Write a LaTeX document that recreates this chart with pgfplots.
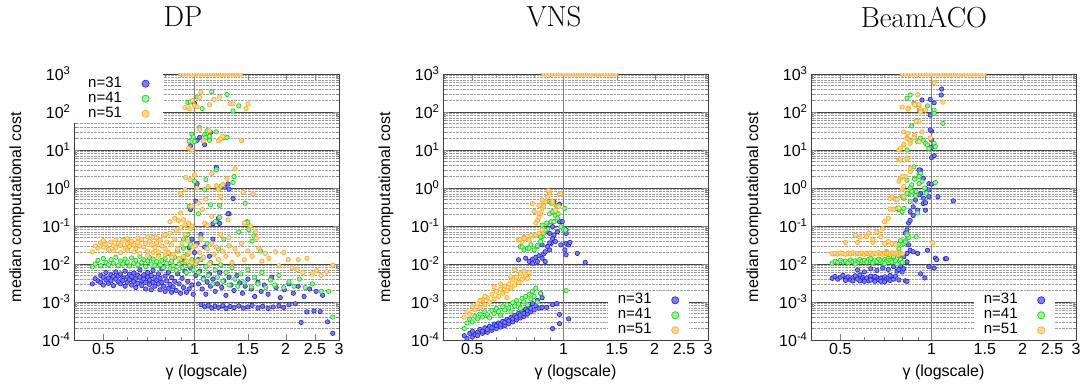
\documentclass[border=0pt]{standalone}
\usepackage{fontspec}
\setsansfont{Liberation Sans}
\usepackage{pgfplots}
\pgfplotsset{compat=1.18}

\definecolor{bdraw}{RGB}{35,35,225}
\definecolor{bfill}{RGB}{125,125,250}
\definecolor{gdraw}{RGB}{30,205,30}
\definecolor{gfill}{RGB}{150,250,150}
\definecolor{odraw}{RGB}{255,170,20}
\definecolor{ofill}{RGB}{255,215,150}

\newcommand{\lblfont}{\sffamily\fontsize{16}{18}\selectfont}
\newcommand{\legfont}{\sffamily\fontsize{15}{17}\selectfont}
\newcommand{\ttlfont}{\rmfamily\fontsize{29}{31}\selectfont}

\begin{document}
\begin{tikzpicture}

% ---------------- DP ----------------
\begin{loglogaxis}[at={(74pt,45pt)}, anchor=south west,
    scale only axis, width=265pt, height=266pt,
    xmin=0.4, xmax=3, ymin=1e-4, ymax=1e3, clip marker paths=true,
    xtick={0.5,1,1.5,2,2.5,3}, xticklabels={0.5,1,1.5,2,2.5,3},
    minor xtick={0.6,0.7,0.8,0.9},
    ytick={1e-4,1e-3,1e-2,1e-1,1e0,1e1,1e2,1e3},
    yticklabels={10\textsuperscript{-4},10\textsuperscript{-3},10\textsuperscript{-2},10\textsuperscript{-1},10\textsuperscript{0},10\textsuperscript{1},10\textsuperscript{2},10\textsuperscript{3}},
    tick align=inside, major tick length=6pt, minor tick length=3pt,
    ymajorgrids, yminorgrids,
    major grid style={black!72, line width=0.8pt},
    minor grid style={densely dotted, black!38, line width=0.5pt},
    axis line style={black!75, line width=0.8pt},
    tick label style={font=\lblfont}, label style={font=\lblfont},
    xlabel={γ (logscale)}, ylabel={median computational cost},
    xlabel style={at={(axis description cs:0.5,-0.12)}, anchor=center},
    ylabel style={at={(axis description cs:-0.215,0.5)}, anchor=center},
    legend plot pos=right, legend cell align=left,
    legend image post style={mark size=3.6pt},
    legend style={draw=none, fill=white, font=\legfont, inner ysep=2pt, column sep=20pt, row sep=0pt,
      nodes={inner ysep=0pt, inner xsep=0pt, text height=11pt, text depth=4pt},
      at={(0,1)}, anchor=north west, inner xsep=14pt}]
\draw[black!50, line width=1pt] (axis cs:1,1e-4) -- (axis cs:1,1e3);
\addplot[only marks, mark=*, mark size=2.2pt, mark options={draw=bdraw, fill=bfill, line width=0.65pt}] coordinates {
(0.46,0.0030)(0.47,0.0041)(0.48,0.0036)(0.49,0.0050)(0.49,0.0033)(0.50,0.0045)(0.50,0.0028)(0.51,0.0060)(0.51,0.0038)(0.52,0.0043)(0.52,0.0031)(0.53,0.0052)(0.53,0.0036)(0.54,0.0047)(0.54,0.0027)(0.55,0.0040)(0.55,0.0062)(0.56,0.0034)(0.56,0.0048)(0.57,0.0055)(0.57,0.0030)(0.58,0.0042)(0.58,0.0037)(0.59,0.0065)(0.59,0.0026)(0.60,0.0045)(0.60,0.0033)(0.61,0.0054)(0.61,0.0039)(0.62,0.0028)(0.62,0.0047)(0.63,0.0058)(0.63,0.0035)(0.64,0.0042)(0.64,0.0024)(0.65,0.0050)(0.65,0.0031)(0.66,0.0045)(0.66,0.0070)(0.67,0.0036)(0.67,0.0027)(0.68,0.0052)(0.68,0.0040)(0.69,0.0022)(0.69,0.0033)(0.70,0.0060)(0.70,0.0045)(0.71,0.0029)(0.71,0.0038)(0.72,0.0050)(0.72,0.0021)(0.73,0.0033)(0.73,0.0068)(0.74,0.0044)(0.74,0.0026)(0.75,0.0037)(0.76,0.0055)(0.76,0.0030)(0.77,0.0021)(0.77,0.0042)(0.78,0.0033)(0.78,0.0075)(0.79,0.0026)(0.80,0.0048)(0.80,0.0019)(0.81,0.0036)(0.82,0.0023)(0.82,0.0060)(0.83,0.0029)(0.84,0.0018)(0.84,0.0044)(0.85,0.0025)(0.86,0.0035)(0.87,0.0020)(0.88,0.0055)(0.89,0.0030)(0.90,0.0017)(0.91,0.0042)(0.92,0.0024)(0.93,0.0065)(0.94,0.0018)(0.95,0.0035)(0.96,0.0022)(0.97,0.0080)(0.98,0.0028)(0.99,0.0016)
(0.93,0.012)(0.96,0.027)(0.98,0.045)(1.00,0.020)(1.02,0.035)(1.05,0.060)(1.03,0.013)(1.08,0.028)(1.12,0.016)(1.15,0.045)(0.97,0.27)(1.01,0.45)(1.15,0.115)(1.20,0.16)(1.21,0.117)(1.30,0.21)(1.29,0.21)(1.34,0.53)(1.30,0.93)(1.26,1.05)(1.02,1.3)(1.29,1.28)(1.18,3.5)(1.13,29)(1.04,21.5)(1.02,18)(0.97,12.9)(1.08,13.8)(1.00,170)
(1.01,0.0050)(1.03,0.0030)(1.04,0.0065)(1.06,0.0022)(1.07,0.0042)(1.09,0.0016)(1.10,0.0034)(1.12,0.0055)(1.13,0.0026)(1.15,0.0040)(1.17,0.0019)(1.19,0.0030)(1.21,0.0060)(1.23,0.0024)(1.25,0.0036)(1.27,0.0015)(1.30,0.0045)(1.32,0.0028)(1.35,0.0020)(1.38,0.0050)(1.41,0.0032)(1.44,0.0017)(1.47,0.0026)(1.50,0.0040)(1.54,0.0022)(1.58,0.0014)(1.62,0.0033)(1.66,0.0019)(1.70,0.0028)(1.75,0.0016)(1.80,0.0045)(1.86,0.0024)(1.92,0.0013)(1.98,0.0021)(2.05,0.0030)(2.12,0.0017)(2.20,0.0026)(2.30,0.0014)(2.40,0.0022)(2.52,0.0019)(2.65,0.0015)
(1.05,0.00085)(1.08,0.00075)(1.11,0.00082)(1.14,0.00070)(1.17,0.00078)(1.20,0.00072)(1.24,0.00080)(1.27,0.00068)(1.31,0.00076)(1.35,0.00071)(1.40,0.00079)(1.45,0.00069)(1.50,0.00074)(1.55,0.00082)(1.62,0.00070)(1.68,0.00077)(1.75,0.00068)(1.82,0.00074)(1.90,0.00080)(1.97,0.00072)(2.05,0.00085)(2.15,0.00090)(2.35,0.00055)(2.48,0.00058)(2.60,0.00056)(2.25,0.00029)(2.75,0.00030)(2.86,0.00015)
};
\addlegendentry{n=31}
\addplot[only marks, mark=*, mark size=2.2pt, mark options={draw=gdraw, fill=gfill, line width=0.65pt}] coordinates {
(0.46,0.0085)(0.47,0.0100)(0.48,0.0125)(0.49,0.0090)(0.50,0.0140)(0.51,0.0110)(0.52,0.0095)(0.53,0.0130)(0.54,0.0105)(0.55,0.0150)(0.56,0.0090)(0.57,0.0120)(0.58,0.0100)(0.59,0.0135)(0.60,0.0112)(0.61,0.0088)(0.62,0.0145)(0.63,0.0105)(0.64,0.0125)(0.65,0.0095)(0.66,0.0160)(0.67,0.0110)(0.68,0.0130)(0.69,0.0085)(0.70,0.0120)(0.71,0.0150)(0.72,0.0100)(0.73,0.0135)(0.74,0.0090)(0.75,0.0115)(0.76,0.0170)(0.77,0.0095)(0.78,0.0125)(0.79,0.0080)(0.80,0.0140)(0.81,0.0105)(0.82,0.0190)(0.83,0.0075)(0.84,0.0120)(0.85,0.0090)(0.86,0.0150)(0.87,0.0068)(0.88,0.0220)(0.89,0.0100)(0.90,0.0130)(0.91,0.0080)(0.92,0.0260)(0.93,0.0110)(0.94,0.0060)(0.95,0.0180)(0.96,0.0090)(0.97,0.030)(0.98,0.0130)(0.99,0.0070)
(0.92,0.045)(0.95,0.06)(0.97,0.033)(1.03,0.21)(0.96,0.33)(1.00,1.5)(1.09,1.66)(1.08,0.9)(1.22,1.1)(1.35,2.0)(1.18,3.0)(1.34,1.4)(1.13,0.36)(1.17,0.13)(1.21,0.35)(1.49,0.13)(1.51,0.08)(1.47,0.40)(1.21,0.17)(1.50,0.125)(1.57,0.055)
(0.96,17)(0.98,26)(0.99,22)(1.00,16.6)(1.04,39)(1.08,25)(1.09,21.5)(1.10,32)(1.12,23)(1.12,18)(1.18,30)(1.25,21)(1.28,21.5)
(0.95,178)(0.97,183)(1.02,250)(1.06,123)(1.14,340)(1.28,290)(1.40,145)(1.34,107)
(1.01,0.0100)(1.03,0.0060)(1.05,0.0130)(1.07,0.0040)(1.09,0.0085)(1.11,0.0050)(1.13,0.0110)(1.15,0.0030)(1.17,0.0070)(1.19,0.0045)(1.22,0.0095)(1.24,0.0035)(1.27,0.0060)(1.30,0.0028)(1.33,0.0080)(1.36,0.0040)(1.39,0.0026)(1.42,0.0055)(1.46,0.0032)(1.50,0.0070)(1.54,0.0025)(1.58,0.0045)(1.62,0.0030)(1.67,0.0060)(1.72,0.0024)(1.78,0.0038)(1.84,0.0028)(1.90,0.0050)(1.97,0.0024)(2.05,0.0034)(2.13,0.0026)(2.22,0.0040)(2.32,0.0024)(2.45,0.0030)(2.62,0.0019)(2.77,0.0019)(2.86,0.0004)
(1.05,0.05)(1.10,0.035)(1.25,0.045)(1.40,0.07)(1.30,0.03)(1.55,0.04)(1.65,0.022)(1.20,0.025)
};
\addlegendentry{n=41}
\addplot[only marks, mark=*, mark size=2.2pt, mark options={draw=odraw, fill=ofill, line width=0.65pt}] coordinates {
(0.46,0.021)(0.47,0.030)(0.48,0.026)(0.49,0.036)(0.50,0.028)(0.51,0.033)(0.52,0.024)(0.53,0.038)(0.54,0.030)(0.55,0.027)(0.56,0.035)(0.57,0.031)(0.58,0.042)(0.59,0.026)(0.60,0.034)(0.61,0.029)(0.62,0.040)(0.63,0.032)(0.64,0.025)(0.65,0.037)(0.66,0.030)(0.67,0.045)(0.68,0.028)(0.69,0.035)(0.70,0.022)(0.71,0.040)(0.72,0.032)(0.73,0.050)(0.74,0.027)(0.75,0.036)(0.76,0.021)(0.77,0.043)(0.78,0.030)(0.79,0.055)(0.80,0.025)(0.81,0.038)(0.82,0.020)(0.83,0.065)(0.84,0.032)(0.85,0.018)(0.86,0.045)(0.87,0.075)(0.88,0.025)(0.89,0.014)(0.90,0.090)(0.91,0.035)(0.92,0.016)(0.93,0.060)(0.94,0.012)(0.95,0.040)(0.96,0.020)(0.97,0.085)(0.98,0.011)(0.99,0.028)
(0.63,0.021)(0.66,0.019)(0.70,0.017)(0.73,0.020)(0.76,0.016)(0.80,0.018)(0.84,0.015)(0.57,0.020)(0.60,0.023)(0.54,0.022)
(0.50,0.041)(0.55,0.044)(0.60,0.046)(0.65,0.048)(0.70,0.052)(0.75,0.049)(0.80,0.058)
(0.83,0.13)(0.86,0.16)(0.885,0.14)(0.92,0.145)(0.955,0.12)(0.98,0.10)(0.93,0.107)(0.90,0.22)(0.975,0.33)(1.06,0.27)(1.14,0.18)(1.29,0.145)(1.46,0.12)(1.10,0.107)(1.09,0.51)(1.03,0.40)(0.90,0.71)(0.93,0.9)(1.22,0.6)(1.20,0.9)(1.45,0.76)(1.56,0.71)(1.11,1.1)(1.02,1.0)(1.18,1.15)(1.24,1.23)(0.935,1.9)(0.967,1.66)(1.00,2.2)(1.14,2.4)(1.28,1.8)(1.36,3.2)
(1.04,35)(1.12,32)(1.07,17.6)(1.20,17.5)(1.22,20)(1.24,23)(1.43,17.5)(0.955,11.2)(0.98,10)
(1.05,335)(1.21,245)(1.16,215)(1.12,155)(1.04,240)(0.985,200)(1.00,147)(0.93,132)(0.96,122)(1.02,138)(1.31,165)(1.34,165)(1.50,163)(1.48,123)
(1.01,0.030)(1.02,0.012)(1.04,0.020)(1.05,0.045)(1.07,0.015)(1.08,0.117)(1.10,0.025)(1.12,0.010)(1.14,0.035)(1.16,0.018)(1.18,0.028)(1.20,0.013)(1.22,0.060)(1.24,0.022)(1.27,0.016)(1.30,0.049)(1.30,0.030)(1.33,0.011)(1.36,0.025)(1.39,0.018)(1.43,0.035)(1.46,0.013)(1.50,0.022)(1.53,0.10)(1.55,0.016)(1.59,0.071)(1.60,0.048)(1.63,0.026)(1.67,0.012)(1.71,0.019)(1.76,0.014)(1.85,0.021)(1.90,0.009)(1.97,0.020)(2.04,0.013)(2.10,0.008)(2.18,0.0072)(2.20,0.013)(2.28,0.006)(2.35,0.014)(2.45,0.0055)(2.53,0.0066)(2.62,0.0050)(2.73,0.0063)(2.86,0.0093)
(0.90,1000)(0.92,1000)(0.94,1000)(0.96,1000)(0.98,1000)(1.00,1000)(1.02,1000)(1.04,1000)(1.06,1000)(1.08,1000)(1.10,1000)(1.12,1000)(1.14,1000)(1.16,1000)(1.18,1000)(1.20,1000)(1.22,1000)(1.24,1000)(1.26,1000)(1.28,1000)(1.30,1000)(1.32,1000)(1.34,1000)(1.36,1000)(1.38,1000)(1.40,1000)(1.42,1000)
};
\addlegendentry{n=51}
\end{loglogaxis}

% ---------------- VNS ----------------
\begin{loglogaxis}[at={(443pt,45pt)}, anchor=south west,
    scale only axis, width=265pt, height=266pt,
    xmin=0.4, xmax=3, ymin=1e-4, ymax=1e3, clip marker paths=true,
    xtick={0.5,1,1.5,2,2.5,3}, xticklabels={0.5,1,1.5,2,2.5,3},
    minor xtick={0.6,0.7,0.8,0.9},
    ytick={1e-4,1e-3,1e-2,1e-1,1e0,1e1,1e2,1e3},
    yticklabels={10\textsuperscript{-4},10\textsuperscript{-3},10\textsuperscript{-2},10\textsuperscript{-1},10\textsuperscript{0},10\textsuperscript{1},10\textsuperscript{2},10\textsuperscript{3}},
    tick align=inside, major tick length=6pt, minor tick length=3pt,
    ymajorgrids, yminorgrids,
    major grid style={black!72, line width=0.8pt},
    minor grid style={densely dotted, black!38, line width=0.5pt},
    axis line style={black!75, line width=0.8pt},
    tick label style={font=\lblfont}, label style={font=\lblfont},
    xlabel={γ (logscale)}, ylabel={median computational cost},
    xlabel style={at={(axis description cs:0.5,-0.12)}, anchor=center},
    ylabel style={at={(axis description cs:-0.215,0.5)}, anchor=center},
    legend plot pos=right, legend cell align=left,
    legend image post style={mark size=3.6pt},
    legend style={draw=none, fill=white, font=\legfont, inner ysep=2pt, column sep=20pt, row sep=0pt,
      nodes={inner ysep=0pt, inner xsep=0pt, text height=11pt, text depth=4pt},
      at={(1,0)}, anchor=south east, xshift=-19pt, inner xsep=10pt}]
\draw[black!50, line width=1pt] (axis cs:1,1e-4) -- (axis cs:1,1e3);
\addplot[only marks, mark=*, mark size=2.2pt, mark options={draw=bdraw, fill=bfill, line width=0.65pt}] coordinates {
(0.47,0.00013)(0.48,0.00011)(0.49,0.00015)(0.50,0.00012)(0.50,0.00017)(0.51,0.00014)(0.52,0.00016)(0.52,0.00013)(0.53,0.00019)(0.54,0.00015)(0.54,0.00017)(0.55,0.00021)(0.56,0.00016)(0.56,0.00019)(0.57,0.00023)(0.58,0.00018)(0.58,0.00021)(0.59,0.00026)(0.60,0.00020)(0.60,0.00024)(0.61,0.00028)(0.62,0.00022)(0.62,0.00026)(0.63,0.00031)(0.64,0.00024)(0.64,0.00029)(0.65,0.00035)(0.66,0.00027)(0.66,0.00032)(0.67,0.00039)(0.68,0.00030)(0.68,0.00036)(0.69,0.00044)(0.70,0.00034)(0.70,0.00040)(0.71,0.00050)(0.72,0.00038)(0.72,0.00045)(0.73,0.00056)(0.74,0.00042)(0.74,0.00050)(0.75,0.00065)(0.76,0.00048)(0.76,0.00058)(0.77,0.00075)(0.78,0.00055)(0.78,0.00068)(0.79,0.00090)(0.80,0.00062)(0.81,0.00080)(0.82,0.00110)
(0.83,0.00069)(0.85,0.00072)(0.92,0.00085)(0.95,0.00091)(0.97,0.00047)(0.92,0.00020)(0.97,0.00027)(1.04,0.00036)(0.84,0.0017)(0.85,0.0013)(0.88,0.00072)
(0.71,0.0129)(0.75,0.0142)(0.77,0.0118)(0.79,0.0134)(0.81,0.0151)(0.83,0.0165)(0.85,0.0142)(0.82,0.0116)(0.79,0.0105)(0.87,0.0116)(0.86,0.0185)(0.90,0.0235)(0.885,0.0287)(0.91,0.035)(0.92,0.047)(0.90,0.064)(0.93,0.058)(0.955,0.071)(0.92,0.096)(0.97,0.13)(0.93,0.44)(0.97,0.37)(1.02,0.079)(1.02,0.035)(1.01,0.0235)(1.04,0.032)(1.05,0.037)(1.02,0.0175)(1.11,0.019)(1.18,0.0111)(1.02,0.064)(0.94,0.039)(0.98,0.032)(0.85,0.032)(0.87,0.021)(0.99,0.13)(0.88,0.073)(0.90,0.036)
};
\addlegendentry{n=31}
\addplot[only marks, mark=*, mark size=2.2pt, mark options={draw=gdraw, fill=gfill, line width=0.65pt}] coordinates {
(0.47,0.00020)(0.48,0.00028)(0.49,0.00035)(0.50,0.00030)(0.51,0.00042)(0.52,0.00036)(0.53,0.00048)(0.54,0.00040)(0.55,0.00055)(0.56,0.00046)(0.57,0.00038)(0.58,0.00060)(0.59,0.00050)(0.60,0.00068)(0.61,0.00056)(0.62,0.00045)(0.63,0.00075)(0.64,0.00062)(0.65,0.00085)(0.66,0.00070)(0.67,0.00055)(0.68,0.00095)(0.69,0.00078)(0.70,0.00110)(0.71,0.00088)(0.72,0.00068)(0.73,0.00125)(0.74,0.00100)(0.75,0.00140)(0.76,0.00085)(0.77,0.00160)(0.78,0.00120)(0.79,0.00190)(0.80,0.00140)(0.81,0.00230)(0.82,0.00100)(0.84,0.00170)(1.02,0.0020)
(0.72,0.0287)(0.74,0.0235)(0.76,0.026)(0.78,0.032)(0.80,0.0235)(0.82,0.0287)(0.84,0.039)(0.85,0.053)(0.86,0.064)(0.885,0.082)(0.91,0.13)(0.90,0.21)(0.92,0.24)(0.94,0.19)(0.955,0.16)(0.85,0.106)(0.885,0.117)(0.98,0.096)(1.00,0.079)(1.01,0.29)(0.90,0.44)(0.91,0.40)(0.95,0.33)(0.96,0.21)(0.93,0.13)(0.88,0.12)(0.87,0.078)(0.84,0.052)(0.82,0.031)(0.77,0.026)(0.73,0.028)(1.015,0.078)
};
\addlegendentry{n=41}
\addplot[only marks, mark=*, mark size=2.2pt, mark options={draw=odraw, fill=ofill, line width=0.65pt}] coordinates {
(0.47,0.00040)(0.48,0.00055)(0.49,0.00048)(0.50,0.00075)(0.51,0.00062)(0.52,0.00090)(0.53,0.00072)(0.54,0.00110)(0.55,0.00085)(0.56,0.00130)(0.57,0.00100)(0.58,0.00160)(0.59,0.00120)(0.60,0.00190)(0.61,0.00140)(0.62,0.00220)(0.63,0.00170)(0.64,0.00260)(0.65,0.00200)(0.66,0.00300)(0.67,0.00230)(0.68,0.00380)(0.69,0.00280)(0.70,0.00450)(0.71,0.00330)(0.72,0.00550)(0.73,0.00400)(0.74,0.00650)(0.75,0.00480)(0.76,0.00420)(0.69,0.0071)(0.77,0.0060)(0.65,0.0013)(0.59,0.0025)(0.62,0.0030)(0.55,0.0014)(0.53,0.0011)(0.67,0.0046)
(0.71,0.043)(0.73,0.039)(0.75,0.047)(0.77,0.043)(0.79,0.055)(0.81,0.058)(0.83,0.064)(0.85,0.079)(0.82,0.14)(0.83,0.17)(0.84,0.21)(0.85,0.29)(0.86,0.35)(0.87,0.43)(0.885,0.58)(0.90,0.75)(0.85,0.48)(0.83,0.35)(0.80,0.24)(0.81,0.12)(0.97,0.69)(0.94,0.26)(0.92,0.40)(0.74,0.05)(0.89,0.85)(0.98,0.72)(0.79,0.39)(0.83,0.22)(0.86,0.33)(0.92,0.45)(0.965,0.33)(0.72,0.044)(0.74,0.047)(0.78,0.056)
(0.86,1000)(0.88,1000)(0.90,1000)(0.92,1000)(0.94,1000)(0.96,1000)(0.98,1000)(1.00,1000)(1.02,1000)(1.04,1000)(1.06,1000)(1.08,1000)(1.10,1000)(1.12,1000)(1.14,1000)(1.16,1000)(1.18,1000)(1.20,1000)(1.22,1000)(1.24,1000)(1.26,1000)(1.28,1000)(1.30,1000)(1.32,1000)(1.34,1000)(1.37,1000)(1.40,1000)(1.43,1000)(1.46,1000)(1.49,1000)
};
\addlegendentry{n=51}
\end{loglogaxis}

% ---------------- BeamACO ----------------
\begin{loglogaxis}[at={(811pt,45pt)}, anchor=south west,
    scale only axis, width=265pt, height=266pt,
    xmin=0.4, xmax=3, ymin=1e-4, ymax=1e3, clip marker paths=true,
    xtick={0.5,1,1.5,2,2.5,3}, xticklabels={0.5,1,1.5,2,2.5,3},
    minor xtick={0.6,0.7,0.8,0.9},
    ytick={1e-4,1e-3,1e-2,1e-1,1e0,1e1,1e2,1e3},
    yticklabels={10\textsuperscript{-4},10\textsuperscript{-3},10\textsuperscript{-2},10\textsuperscript{-1},10\textsuperscript{0},10\textsuperscript{1},10\textsuperscript{2},10\textsuperscript{3}},
    tick align=inside, major tick length=6pt, minor tick length=3pt,
    ymajorgrids, yminorgrids,
    major grid style={black!72, line width=0.8pt},
    minor grid style={densely dotted, black!38, line width=0.5pt},
    axis line style={black!75, line width=0.8pt},
    tick label style={font=\lblfont}, label style={font=\lblfont},
    xlabel={γ (logscale)}, ylabel={median computational cost},
    xlabel style={at={(axis description cs:0.5,-0.12)}, anchor=center},
    ylabel style={at={(axis description cs:-0.215,0.5)}, anchor=center},
    legend plot pos=right, legend cell align=left,
    legend image post style={mark size=3.6pt},
    legend style={draw=none, fill=white, font=\legfont, inner ysep=2pt, column sep=20pt, row sep=0pt,
      nodes={inner ysep=0pt, inner xsep=0pt, text height=11pt, text depth=4pt},
      at={(1,0)}, anchor=south east, xshift=-21pt, inner xsep=10pt}]
\draw[black!50, line width=1pt] (axis cs:1,1e-4) -- (axis cs:1,1e3);
\addplot[only marks, mark=*, mark size=2.2pt, mark options={draw=bdraw, fill=bfill, line width=0.65pt}] coordinates {
(0.47,0.0042)(0.48,0.0047)(0.49,0.0040)(0.50,0.0045)(0.51,0.0050)(0.52,0.0041)(0.53,0.0046)(0.54,0.0038)(0.55,0.0044)(0.56,0.0049)(0.57,0.0040)(0.58,0.0036)(0.59,0.0045)(0.60,0.0039)(0.61,0.0043)(0.62,0.0036)(0.63,0.0048)(0.64,0.0040)(0.65,0.0035)(0.66,0.0044)(0.67,0.0038)(0.68,0.0042)(0.69,0.0036)(0.70,0.0046)(0.71,0.0039)(0.72,0.0043)(0.73,0.0037)(0.74,0.0045)(0.75,0.0040)(0.76,0.0048)(0.55,0.0036)(0.60,0.0035)(0.65,0.0047)(0.70,0.0034)(0.52,0.0037)(0.58,0.0052)(0.63,0.0038)(0.68,0.0035)(0.73,0.0050)
(0.57,0.0070)(0.60,0.0062)(0.63,0.0075)(0.66,0.0068)(0.69,0.0078)(0.72,0.0072)(0.75,0.0085)(0.77,0.0065)(0.79,0.0090)(0.80,0.0062)(0.78,0.0038)(0.82,0.0036)(0.81,0.0075)
(0.81,0.0156)(0.83,0.019)(0.85,0.023)(0.84,0.032)(0.87,0.021)(0.90,0.019)(0.83,0.0114)(0.78,0.0072)(0.83,0.079)(0.82,0.065)(0.84,0.12)(0.85,0.14)(0.87,0.19)(0.90,0.26)(0.85,0.24)(0.94,0.39)(0.955,0.26)(0.98,0.59)(0.92,0.72)(0.97,0.023)(1.03,0.0143)(1.04,0.013)(1.11,0.0137)(1.02,0.0078)(0.92,0.0055)(0.95,0.0043)(0.83,0.0035)(1.18,0.46)(1.12,0.0138)(0.98,0.0085)
(1.08,403)(1.077,280)(0.99,215)(1.02,175)(0.93,207)(0.99,83)(1.00,31.6)(1.00,18.4)(1.00,11.6)(1.00,6.3)(1.02,7.1)(0.92,2.95)(0.91,2.2)(0.94,1.8)(0.98,1.3)(1.00,1.26)(0.955,0.98)(0.98,0.89)(0.91,0.66)(0.94,0.54)(0.885,0.48)(1.05,0.59)(0.955,0.41)(0.87,0.32)(0.91,3.0)(0.99,34)
};
\addlegendentry{n=31}
\addplot[only marks, mark=*, mark size=2.2pt, mark options={draw=gdraw, fill=gfill, line width=0.65pt}] coordinates {
(0.47,0.0105)(0.48,0.0118)(0.49,0.0110)(0.50,0.0125)(0.51,0.0112)(0.52,0.0120)(0.53,0.0108)(0.54,0.0128)(0.55,0.0115)(0.56,0.0122)(0.57,0.0110)(0.58,0.0130)(0.59,0.0118)(0.60,0.0125)(0.61,0.0112)(0.62,0.0132)(0.63,0.0120)(0.64,0.0108)(0.65,0.0126)(0.66,0.0115)(0.67,0.0135)(0.68,0.0122)(0.69,0.0110)(0.70,0.0130)(0.71,0.0118)(0.72,0.0140)(0.73,0.0125)(0.74,0.0112)(0.75,0.0150)(0.76,0.0120)(0.77,0.0100)(0.78,0.0165)(0.79,0.0130)(0.80,0.0110)(0.56,0.0100)(0.63,0.0140)(0.70,0.0102)
(0.69,0.019)(0.71,0.021)(0.75,0.0156)(0.78,0.025)(0.81,0.034)(0.79,0.041)(0.82,0.041)(0.84,0.05)(0.83,0.063)(0.80,0.24)(0.81,0.29)(0.78,0.033)(0.82,0.038)(0.83,0.058)(0.89,0.052)(0.78,0.27)(0.80,0.6)(0.84,0.70)(0.86,0.81)(0.89,0.66)(0.91,1.3)(0.88,1.8)(0.91,2.4)(0.93,1.5)(0.95,1.0)(0.96,0.73)(1.03,1.4)(0.90,0.22)
(0.85,280)(0.83,230)(0.875,170)(0.89,152)(0.91,112)(0.97,145)(1.02,112)(1.02,91)(1.09,50)(0.86,43)(0.85,18)(0.90,16.5)(0.92,20.5)(0.94,18)(0.955,15)(0.97,13.5)(0.98,11)(1.02,15)(1.03,12.3)(0.83,10)(0.875,3.6)(0.92,2.4)(0.91,2.0)(0.88,1.7)(0.83,1.6)(0.86,1.2)(0.85,1.0)(0.89,0.8)(0.83,0.72)(0.81,0.54)(0.77,0.29)(0.85,0.44)(0.885,0.62)(0.84,1000)
};
\addlegendentry{n=41}
\addplot[only marks, mark=*, mark size=2.2pt, mark options={draw=odraw, fill=ofill, line width=0.65pt}] coordinates {
(0.47,0.0185)(0.48,0.0190)(0.49,0.0182)(0.50,0.0195)(0.51,0.0188)(0.52,0.0180)(0.53,0.0192)(0.54,0.0186)(0.55,0.0198)(0.56,0.0183)(0.57,0.0190)(0.58,0.0185)(0.59,0.0195)(0.60,0.0180)(0.61,0.0190)(0.62,0.0187)(0.63,0.0196)(0.64,0.0182)(0.65,0.0192)(0.66,0.0185)(0.67,0.0200)(0.68,0.0188)(0.69,0.0180)(0.70,0.0195)(0.71,0.0186)(0.72,0.0192)(0.73,0.0183)(0.74,0.0198)(0.75,0.0188)(0.76,0.0185)(0.77,0.0195)(0.78,0.0180)(0.79,0.0190)(0.80,0.0186)
(0.52,0.037)(0.56,0.057)(0.57,0.037)(0.61,0.052)(0.62,0.065)(0.66,0.07)(0.68,0.052)(0.64,0.037)(0.69,0.085)(0.71,0.036)(0.58,0.052)(0.64,0.044)(0.70,0.035)(0.72,0.039)(0.74,0.035)(0.76,0.032)
(0.70,0.13)(0.72,0.16)(0.75,0.27)(0.78,0.3)(0.76,0.5)(0.80,0.9)(0.81,0.6)(0.79,1.8)(0.82,2.0)(0.85,2.7)(0.78,10)(0.81,13.8)(0.83,21)(0.85,17)(0.88,24)(0.91,56)(0.78,5.5)(0.83,6.2)(0.80,135)(0.84,128)(0.88,156)(0.90,285)(0.91,155)(0.92,115)(1.02,600)(1.09,182)(1.01,0.036)
(0.835,120)(0.92,102)(0.955,112)(0.89,57)(0.81,30)(0.835,27.5)(0.83,20)(0.875,21)(0.91,16.5)(0.85,15)(0.79,11)(0.81,14)(0.93,30)(0.99,20.6)(0.79,5.5)(0.83,5.8)(0.85,3.3)(0.80,2.0)(0.78,1.5)(0.81,1.1)(0.74,0.59)(0.73,0.53)(0.77,0.5)(0.73,0.28)
(0.80,1000)(0.82,1000)(0.84,1000)(0.86,1000)(0.88,1000)(0.90,1000)(0.92,1000)(0.94,1000)(0.96,1000)(0.98,1000)(1.00,1000)(1.02,1000)(1.04,1000)(1.06,1000)(1.08,1000)(1.10,1000)(1.12,1000)(1.14,1000)(1.16,1000)(1.18,1000)(1.20,1000)(1.22,1000)(1.24,1000)(1.26,1000)(1.28,1000)(1.30,1000)(1.33,1000)(1.36,1000)(1.39,1000)(1.42,1000)(1.45,1000)(1.49,1000)
};
\addlegendentry{n=51}
\end{loglogaxis}

% panel titles
\node[font=\ttlfont] at (183pt,368pt) {DP};
\node[font=\ttlfont] at (554pt,368pt) {VNS};
\node[font=\ttlfont] at (924pt,368pt) {BeamACO};

\pgfresetboundingbox
\path[use as bounding box] (0pt,0pt) rectangle (1086pt,385pt);
\end{tikzpicture}
\end{document}
